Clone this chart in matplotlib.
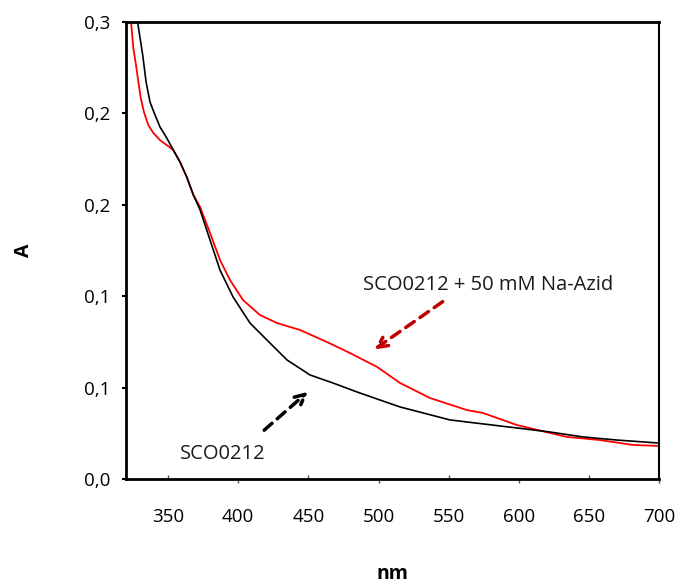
import matplotlib.pyplot as plt
from matplotlib.ticker import FixedLocator, FixedFormatter

plt.rcParams['font.family'] = ['Open Sans', 'DejaVu Sans']

## spectra (nm, absorbance)
nm_sco = [327.1, 328.3, 330.0, 331.9, 334.3, 337.1, 340.7, 344.2, 349.0, 353.7,
          358.5, 363.3, 368.0, 372.8, 379.9, 387.0, 396.3, 408.4, 420.5, 434.8,
          451.2, 467.6, 484.7, 501.1, 515.4, 551.0, 598.8, 622.3, 645.8, 670.1, 699.3]
a_sco = [0.2566, 0.2500, 0.2412, 0.2319, 0.2172, 0.2062, 0.1991, 0.1926, 0.1866, 0.1800,
         0.1734, 0.1652, 0.1554, 0.1472, 0.1307, 0.1143, 0.0996, 0.0853, 0.0760, 0.0651,
         0.0569, 0.0525, 0.0476, 0.0432, 0.0394, 0.0323, 0.0279, 0.0257, 0.0230, 0.0213, 0.0197]

nm_azid = [322.1, 323.6, 325.2, 327.1, 328.8, 330.5, 332.8, 335.9, 339.5, 344.2,
           349.0, 353.7, 358.5, 363.3, 368.0, 372.8, 379.9, 387.0, 394.1, 403.4,
           415.5, 427.7, 444.1, 463.3, 479.7, 499.0, 515.4, 536.7, 563.1, 574.5,
           598.8, 610.2, 634.4, 657.9, 681.5, 699.3]
a_azid = [0.2566, 0.2500, 0.2358, 0.2265, 0.2172, 0.2084, 0.2007, 0.1936, 0.1893, 0.1854,
          0.1827, 0.1800, 0.1734, 0.1652, 0.1554, 0.1488, 0.1346, 0.1198, 0.1089, 0.0979,
          0.0897, 0.0853, 0.0815, 0.0749, 0.0689, 0.0613, 0.0525, 0.0443, 0.0377, 0.0361,
          0.0295, 0.0274, 0.0230, 0.0213, 0.0186, 0.0181]

y_ticks = [0, 0.05, 0.10, 0.15, 0.20, 0.25]
y_labels = ['0,0', '0,1', '0,1', '0,2', '0,2', '0,3']
x_major = [400, 500, 600, 700]
x_minor = [350, 450, 550, 650]

fig = plt.figure(figsize=(6.79, 5.87), dpi=100)
ax = fig.add_axes([0.1856, 0.184, 0.785, 0.7785])

ax.plot(nm_azid, a_azid, color='#ff0000', lw=1.3)
ax.plot(nm_sco, a_sco, color='black', lw=1.2)

ax.set_xlim(320, 700)
ax.set_ylim(0, 0.25)

# x axis: labels every 50, ticks alternate in/out like the original
ax.xaxis.set_major_locator(FixedLocator(x_major))
ax.xaxis.set_major_formatter(FixedFormatter([str(v) for v in x_major]))
ax.xaxis.set_minor_locator(FixedLocator(x_minor))
ax.xaxis.set_minor_formatter(FixedFormatter([str(v) for v in x_minor]))
ax.tick_params(axis='x', which='major', direction='out', length=3, width=1,
               pad=18, labelsize=13.5, color='#555555')
ax.tick_params(axis='x', which='minor', direction='in', length=3, width=1,
               pad=21, labelsize=13.5, color='#555555')

ax.set_yticks(y_ticks)
ax.set_yticklabels(y_labels)
ax.tick_params(axis='y', direction='out', length=3, width=1.5, pad=8, labelsize=13.5)

for s in ax.spines.values():
    s.set_linewidth(2)
ax.spines['right'].set_linewidth(1.5)

ax.set_xlabel('nm', fontsize=14, fontweight='bold', labelpad=27)
ax.set_ylabel('A', fontsize=14, fontweight='bold', labelpad=36)

# annotations
ax.annotate('', xy=(495.4, 0.0700), xytext=(547.4, 0.0979),
            arrowprops=dict(arrowstyle='->', color='#c00000', lw=2.5,
                            linestyle=(0, (3, 2)), mutation_scale=18))
ax.text(489.0, 0.1061, 'SCO0212 + 50 mM Na-Azid', fontsize=14.5,
        ha='left', va='center', color='#1a1a1a')

ax.annotate('', xy=(451.2, 0.0487), xytext=(417.0, 0.0257),
            arrowprops=dict(arrowstyle='->', color='black', lw=2.5,
                            linestyle=(0, (3, 2)), mutation_scale=18))
ax.text(358.5, 0.0137, 'SCO0212', fontsize=14.5, ha='left', va='center',
        color='#1a1a1a')

fig.savefig('out.png', dpi=100)
